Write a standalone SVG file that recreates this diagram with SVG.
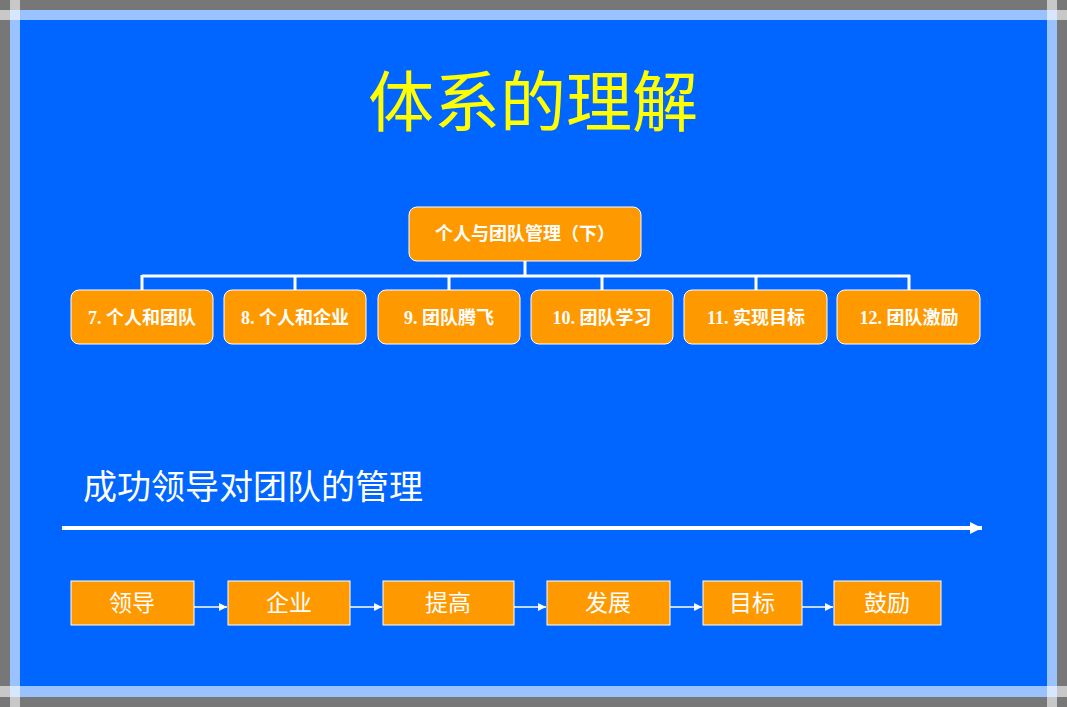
<svg xmlns="http://www.w3.org/2000/svg" width="1067" height="707" viewBox="0 0 1067 707">
<defs>
<style>
.t{fill:#fff;font-family:"Liberation Serif","Noto Sans CJK SC",serif;text-anchor:middle}
.b{fill:#FF9900;stroke:#fff;stroke-width:1}
.l{stroke:#fff;fill:none}
</style>
<marker id="a" viewBox="0 0 10 10" refX="10" refY="5" markerWidth="10" markerHeight="8" markerUnits="userSpaceOnUse" orient="auto"><path d="M0,0L10,5L0,10z" fill="#fff"/></marker>
<marker id="A" viewBox="0 0 10 10" refX="10" refY="5" markerWidth="14" markerHeight="12" markerUnits="userSpaceOnUse" orient="auto"><path d="M0,0L10,5L0,10z" fill="#fff"/></marker>
</defs>
<rect width="1067" height="707" fill="#777"/>
<rect x="10" y="10" width="1047" height="687" fill="#0066FF"/>
<g fill="#fff" fill-opacity="0.6">
<rect x="0" y="10" width="1067" height="10"/>
<rect x="0" y="686" width="1067" height="11"/>
<rect x="10" y="0" width="10" height="707"/>
<rect x="1047" y="0" width="10" height="707"/>
</g>
<text x="533" y="126" class="t" font-size="66" fill="#FFFF00" style="fill:#FFFF00">体系的理解</text>
<g id="connectors">
<path class="l" stroke-width="3" d="M525,261V276M142,276H910M142,275V290M295,275V290M449,275V290M602,275V290M756,275V290M909,275V290"/>
<path class="l" stroke-width="4" d="M62,528H982" marker-end="url(#A)"/>
<g class="l" stroke-width="1.5">
<path d="M194,607H227" marker-end="url(#a)"/>
<path d="M350,607H382" marker-end="url(#a)"/>
<path d="M514,607H546" marker-end="url(#a)"/>
<path d="M670,607H702" marker-end="url(#a)"/>
<path d="M802,607H833" marker-end="url(#a)"/>
</g>
</g>
<g id="top"><rect class="b" x="409" y="207" width="232" height="54" rx="8"/><text class="t" x="525" y="240" font-size="18" font-weight="bold">个人与团队管理（下）</text></g>
<g font-size="18" font-weight="bold">
<g id="n7"><rect class="b" x="71" y="290" width="142" height="54" rx="8"/><text class="t" x="142" y="324">7. 个人和团队</text></g>
<g id="n8"><rect class="b" x="224" y="290" width="142" height="54" rx="8" stroke="none"/><text class="t" x="295" y="324">8. 个人和企业</text></g>
<g id="n9"><rect class="b" x="378" y="290" width="142" height="54" rx="8"/><text class="t" x="449" y="324">9. 团队腾飞</text></g>
<g id="n10"><rect class="b" x="531" y="290" width="142" height="54" rx="8"/><text class="t" x="602" y="324">10. 团队学习</text></g>
<g id="n11"><rect class="b" x="684" y="290" width="143" height="54" rx="8"/><text class="t" x="756" y="324">11. 实现目标</text></g>
<g id="n12"><rect class="b" x="837" y="290" width="143" height="54" rx="8"/><text class="t" x="909" y="324">12. 团队激励</text></g>
</g>
<text x="83" y="499" class="t" font-size="34" style="text-anchor:start">成功领导对团队的管理</text>
<g font-size="23">
<g id="s1"><rect class="b" x="71" y="581" width="123" height="44"/><text class="t" x="132" y="611">领导</text></g>
<g id="s2"><rect class="b" x="228" y="581" width="122" height="44"/><text class="t" x="289" y="611">企业</text></g>
<g id="s3"><rect class="b" x="383" y="581" width="131" height="44"/><text class="t" x="448" y="611">提高</text></g>
<g id="s4"><rect class="b" x="547" y="581" width="123" height="44"/><text class="t" x="608" y="611">发展</text></g>
<g id="s5"><rect class="b" x="703" y="581" width="99" height="44"/><text class="t" x="752" y="611">目标</text></g>
<g id="s6"><rect class="b" x="834" y="581" width="107" height="44"/><text class="t" x="887" y="611">鼓励</text></g>
</g>
</svg>
